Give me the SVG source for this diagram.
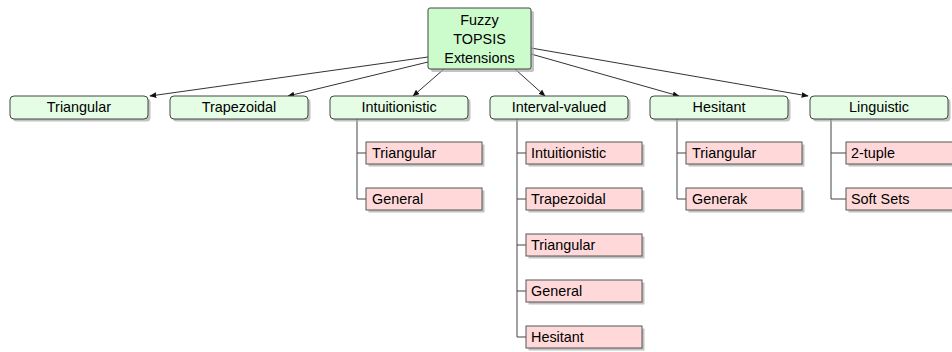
<svg xmlns="http://www.w3.org/2000/svg" width="952" height="352" viewBox="0 0 952 352">
<defs>
<style>
text{font-family:"Liberation Sans",Arial,sans-serif;font-size:14.4px;fill:#000;}
.root{fill:#ccfccc;stroke:#444;stroke-width:1;}
.l1{fill:#e4fde4;stroke:#444;stroke-width:1;}
.ch{fill:#ffd9d9;stroke:#555;stroke-width:1;}
.sh{fill:#aaa;opacity:0.7;}
.cn{fill:none;stroke:#333;stroke-width:1;}
.tr{fill:none;stroke:#444;stroke-width:1;}
</style>
<marker id="ah" viewBox="0 0 10 10" refX="9" refY="5" markerWidth="7" markerHeight="7" orient="auto" markerUnits="userSpaceOnUse">
<path d="M0,1 L10,5 L0,9 z" fill="#111"/>
</marker>
</defs>
<g id="connectors">
<line class="cn" x1="428" y1="57" x2="150" y2="96" marker-end="url(#ah)"/>
<line class="cn" x1="428" y1="62" x2="288" y2="96" marker-end="url(#ah)"/>
<line class="cn" x1="444" y1="69" x2="413" y2="96" marker-end="url(#ah)"/>
<line class="cn" x1="515" y1="69" x2="545" y2="96" marker-end="url(#ah)"/>
<line class="cn" x1="531" y1="54" x2="679" y2="96" marker-end="url(#ah)"/>
<line class="cn" x1="531" y1="48" x2="808" y2="96" marker-end="url(#ah)"/>
<path class="tr" d="M357,119 V199 H366 M357,153 H366"/>
<path class="tr" d="M517,119 V337 H526 M517,153 H526 M517,199 H526 M517,245 H526 M517,291 H526"/>
<path class="tr" d="M677,119 V199 H686 M677,153 H686"/>
<path class="tr" d="M831,119 V199 H846 M831,153 H846"/>
</g>
<g id="root">
<rect class="sh" x="431" y="11" width="103" height="61" rx="2"/>
<rect class="root" x="428" y="8" width="103" height="61" rx="2"/>
<text x="479.5" y="25" text-anchor="middle">Fuzzy</text>
<text x="479.5" y="44" text-anchor="middle">TOPSIS</text>
<text x="479.5" y="63" text-anchor="middle">Extensions</text>
</g>
<g id="n-triangular">
<rect class="sh" x="12.5" y="98.5" width="138" height="23" rx="4"/>
<rect class="l1" x="10" y="96" width="138" height="23" rx="4"/>
<text x="79" y="112" text-anchor="middle">Triangular</text>
</g>
<g id="n-trapezoidal">
<rect class="sh" x="172.5" y="98.5" width="138" height="23" rx="4"/>
<rect class="l1" x="170" y="96" width="138" height="23" rx="4"/>
<text x="239" y="112" text-anchor="middle">Trapezoidal</text>
</g>
<g id="n-intuitionistic">
<rect class="sh" x="332.5" y="98.5" width="138" height="23" rx="4"/>
<rect class="l1" x="330" y="96" width="138" height="23" rx="4"/>
<text x="399" y="112" text-anchor="middle">Intuitionistic</text>
</g>
<g id="n-interval">
<rect class="sh" x="492.5" y="98.5" width="138" height="23" rx="4"/>
<rect class="l1" x="490" y="96" width="138" height="23" rx="4"/>
<text x="559" y="112" text-anchor="middle">Interval-valued</text>
</g>
<g id="n-hesitant">
<rect class="sh" x="652.5" y="98.5" width="138" height="23" rx="4"/>
<rect class="l1" x="650" y="96" width="138" height="23" rx="4"/>
<text x="719" y="112" text-anchor="middle">Hesitant</text>
</g>
<g id="n-linguistic">
<rect class="sh" x="812.5" y="98.5" width="138" height="23" rx="4"/>
<rect class="l1" x="810" y="96" width="138" height="23" rx="4"/>
<text x="879" y="112" text-anchor="middle">Linguistic</text>
</g>
<g id="c-int-tri">
<rect class="sh" x="368.5" y="144.5" width="116" height="22"/>
<rect class="ch" x="366" y="142" width="116" height="22"/>
<text x="372" y="158">Triangular</text>
</g>
<g id="c-int-gen">
<rect class="sh" x="368.5" y="190.5" width="116" height="22"/>
<rect class="ch" x="366" y="188" width="116" height="22"/>
<text x="372" y="204">General</text>
</g>
<g id="c-iv-int">
<rect class="sh" x="528.5" y="144.5" width="116" height="22"/>
<rect class="ch" x="526" y="142" width="116" height="22"/>
<text x="531" y="158">Intuitionistic</text>
</g>
<g id="c-iv-trap">
<rect class="sh" x="528.5" y="190.5" width="116" height="22"/>
<rect class="ch" x="526" y="188" width="116" height="22"/>
<text x="531" y="204">Trapezoidal</text>
</g>
<g id="c-iv-tri">
<rect class="sh" x="528.5" y="236.5" width="116" height="22"/>
<rect class="ch" x="526" y="234" width="116" height="22"/>
<text x="531" y="250">Triangular</text>
</g>
<g id="c-iv-gen">
<rect class="sh" x="528.5" y="282.5" width="116" height="22"/>
<rect class="ch" x="526" y="280" width="116" height="22"/>
<text x="531" y="296">General</text>
</g>
<g id="c-iv-hes">
<rect class="sh" x="528.5" y="328.5" width="116" height="22"/>
<rect class="ch" x="526" y="326" width="116" height="22"/>
<text x="531" y="342">Hesitant</text>
</g>
<g id="c-hes-tri">
<rect class="sh" x="688.5" y="144.5" width="116" height="22"/>
<rect class="ch" x="686" y="142" width="116" height="22"/>
<text x="692" y="158">Triangular</text>
</g>
<g id="c-hes-gen">
<rect class="sh" x="688.5" y="190.5" width="116" height="22"/>
<rect class="ch" x="686" y="188" width="116" height="22"/>
<text x="692" y="204">Generak</text>
</g>
<g id="c-ling-2t">
<rect class="sh" x="848.5" y="144.5" width="116" height="22"/>
<rect class="ch" x="846" y="142" width="116" height="22"/>
<text x="851" y="158">2-tuple</text>
</g>
<g id="c-ling-ss">
<rect class="sh" x="848.5" y="190.5" width="116" height="22"/>
<rect class="ch" x="846" y="188" width="116" height="22"/>
<text x="851" y="204">Soft Sets</text>
</g>
</svg>
